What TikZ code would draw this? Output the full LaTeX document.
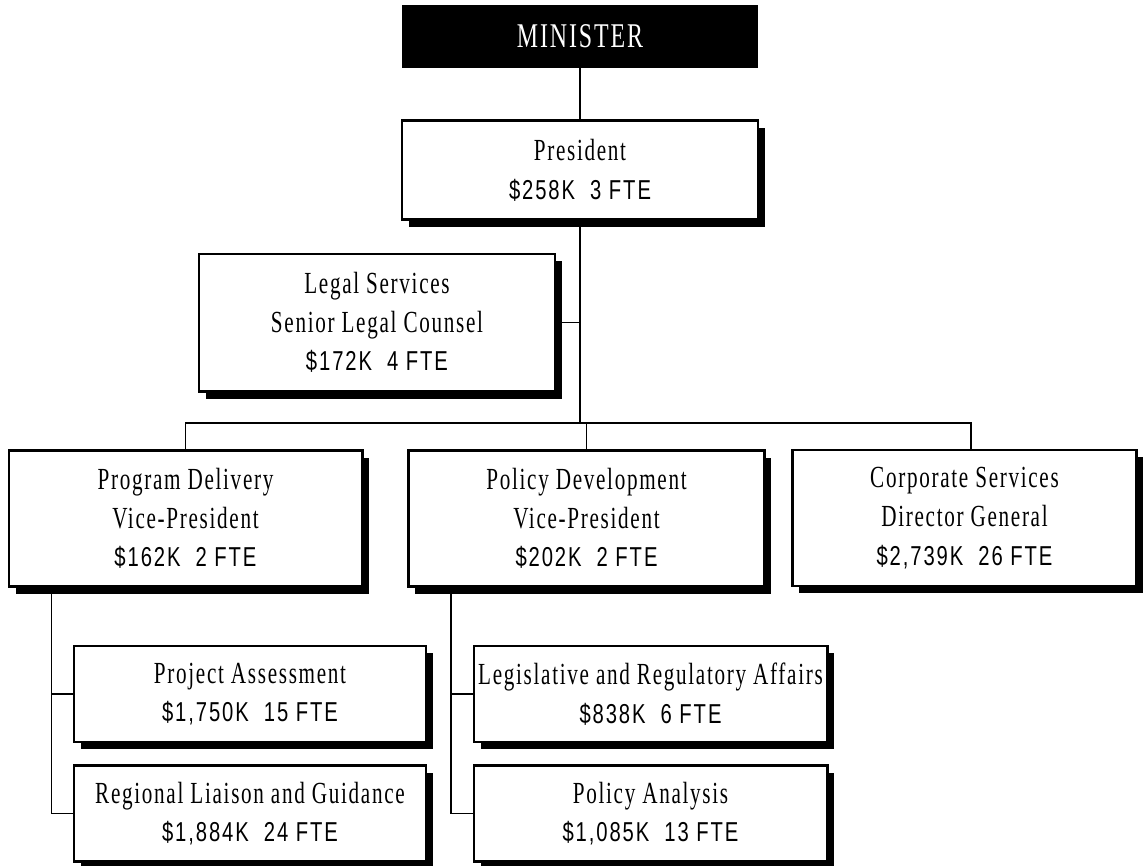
\documentclass[tikz,border=0pt]{standalone}
\usepackage{fontspec}
\setmainfont{Liberation Serif}[FakeStretch=0.69,LetterSpace=5.5]
\newfontfamily\numfont{Liberation Sans}[FakeStretch=0.74,LetterSpace=7]
\usetikzlibrary{shadows}
\newcommand\amt[1]{{\numfont\fontsize{20.5}{29}\selectfont #1}}

\begin{document}
\begin{tikzpicture}[x=0.75pt,y=-0.75pt,
    box/.style={draw,line width=2pt,fill=white,align=center,inner sep=0pt,
        font=\fontsize{23}{29}\selectfont,
        drop shadow={shadow xshift=5pt,shadow yshift=-5.5pt,opacity=1,fill=black}},
    link/.style={line width=1.2pt}]
            \useasboundingbox (0,0) rectangle (1144,865);
            \node[fill=black,text=white,minimum width=267pt,minimum height=47pt,
                font=\fontsize{26}{30}\selectfont] (1) at (580,36.5) {MINISTER};
            \node[box,minimum width=267pt,minimum height=74pt] (2) at (580,170)
                {President\\\amt{\$258K~~3 FTE}};
            \node[box,minimum width=267pt,minimum height=103pt] (3) at (377,322.5)
                {Legal Services\\Senior Legal Counsel\\\amt{\$172K~~4 FTE}};
            \node[box,minimum width=265pt,minimum height=102pt] (4) at (185.5,518.5)
                {Program Delivery\\Vice-President\\\amt{\$162K~~2 FTE}};
            \node[box,minimum width=267pt,minimum height=102pt] (5) at (586.5,518.5)
                {Policy Development\\Vice-President\\\amt{\$202K~~2 FTE}};
            \node[box,minimum width=258pt,minimum height=102pt] (6) at (964.5,518)
                {Corporate Services\\Director General\\\amt{\$2,739K~~26 FTE}};
            \node[box,minimum width=264pt,minimum height=72pt] (7) at (250,694)
                {Project Assessment\\\amt{\$1,750K~~15 FTE}};
            \node[box,minimum width=264pt,minimum height=72pt] (8) at (250,813.5)
                {Regional Liaison and Guidance\\\amt{\$1,884K~~24 FTE}};
            \node[box,minimum width=265pt,minimum height=72pt] (9) at (650.5,694)
                {Legislative and Regulatory Affairs\\\amt{\$838K~~6 FTE}};
            \node[box,minimum width=265pt,minimum height=72pt] (10) at (650.5,813.5)
                {Policy Analysis\\\amt{\$1,085K~~13 FTE}};
            \coordinate (j) at (580,423);

            \draw[link] (1) -- (2);
            \draw[link] (2) -- (j);
            \draw[link] (3.east) -- (3.east -| j);
            \draw[link] (4.north) |- (j) -| ([xshift=5pt]6.north);
            \draw[link] (5.north) -- (5.north |- j);
            \draw[link] ([xshift=33pt]4.south west) |- (7.west);
            \draw[link] ([xshift=33pt]4.south west) |- (8.west);
            \draw[link] ([xshift=33pt]5.south west) |- (9.west);
            \draw[link] ([xshift=33pt]5.south west) |- (10.west);
        \end{tikzpicture}
\end{document}
